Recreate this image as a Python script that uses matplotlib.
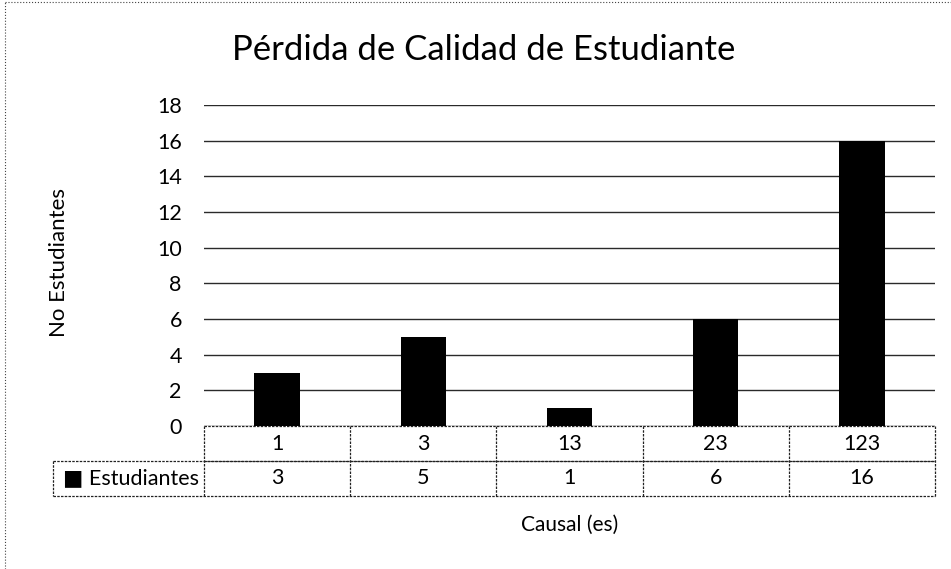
import numpy as np
import matplotlib
matplotlib.use("Agg")
import matplotlib.pyplot as plt
from matplotlib.lines import Line2D
from matplotlib.transforms import blended_transform_factory

# datos del grafico
causales = ['1', '3', '13', '23', '123']
estudiantes = [3, 5, 1, 6, 16]
serie = 'Estudiantes'

plt.rcParams['font.family'] = ['Lato', 'DejaVu Sans']

fig = plt.figure(figsize=(9.51, 5.69), dpi=100)
ax = fig.add_axes([204 / 951, 1 - 426 / 569, 731 / 951, 321 / 569])

x = np.arange(len(causales))
ax.bar(x, estudiantes, width=0.31, color='black', zorder=3)

ax.set_xlim(-0.5, len(causales) - 0.5)
ax.set_ylim(0, 18)
ax.set_yticks(range(0, 19, 2))
ax.set_xticks([])
ax.tick_params(axis='y', length=0, pad=16, labelsize=15.5)
for s in ax.spines.values():
    s.set_visible(False)
ax.yaxis.grid(True, color='#2a2a2a', linewidth=1.0)
ax.set_axisbelow(True)

fig.text(484 / 951, 1 - 50 / 569, 'Pérdida de Calidad de Estudiante',
         fontsize=25, ha='center', va='center')
ax.set_ylabel('No Estudiantes', fontsize=16)
ax.yaxis.set_label_coords(-0.185, 0.51)

# tabla de datos bajo el eje
h = 35 / 321
legx = -151 / 731
fs = 15.5
trans = blended_transform_factory(ax.transData, ax.transAxes)
for i, (c, v) in enumerate(zip(causales, estudiantes)):
    ax.text(i, -h / 2, c, transform=trans, ha='center', va='center',
            fontsize=fs, clip_on=False)
    ax.text(i, -1.5 * h, str(v), transform=trans, ha='center', va='center',
            fontsize=fs, clip_on=False)

lk = dict(color='#222222', linewidth=0.9, linestyle=(0, (2, 1)), clip_on=False)
ax.plot([0, 1], [-h, -h], transform=ax.transAxes, **lk)
ax.plot([legx, 1], [-h, -h], transform=ax.transAxes, **lk)
ax.plot([legx, 1], [-2 * h, -2 * h], transform=ax.transAxes, **lk)
ax.plot([0, 1], [0, 0], transform=ax.transAxes, **lk)
for k in range(len(causales) + 1):
    ax.plot([k - 0.5, k - 0.5], [0, -2 * h], transform=trans, **lk)
ax.plot([legx, legx], [-h, -2 * h], transform=ax.transAxes, **lk)

ax.text(-5 / 731, -1.5 * h, '■ ' + serie, transform=ax.transAxes,
        ha='right', va='center', fontsize=fs, clip_on=False)

ax.text(0.5, -0.308, 'Causal (es)', transform=ax.transAxes, ha='center',
        va='center', fontsize=15, clip_on=False)

# marco del grafico
fig.add_artist(Line2D([5 / 951, 5 / 951], [0, 1 - 2 / 569], color='#444444',
                      linewidth=0.8, linestyle=':'))
fig.add_artist(Line2D([5 / 951, 1], [1 - 2 / 569, 1 - 2 / 569], color='#444444',
                      linewidth=0.8, linestyle=':'))

fig.savefig('out.png', dpi=100)
